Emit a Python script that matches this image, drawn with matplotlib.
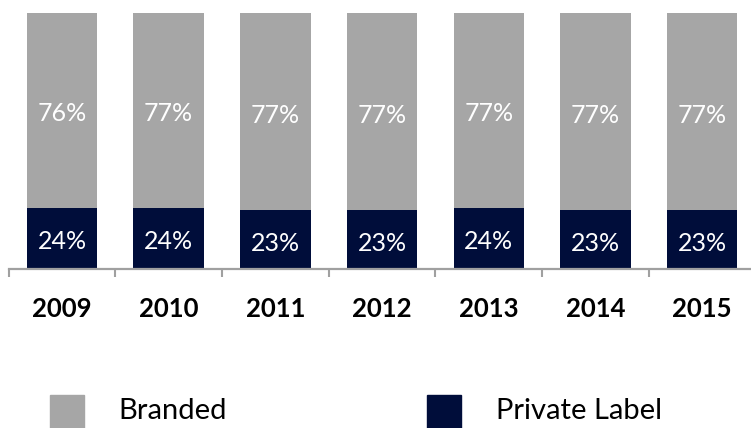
import numpy as np
import matplotlib
matplotlib.use("Agg")
import matplotlib.pyplot as plt
from matplotlib.patches import Patch, Rectangle
from matplotlib.legend_handler import HandlerPatch

years = ["2009", "2010", "2011", "2012", "2013", "2014", "2015"]
private_label = [24, 24, 23, 23, 24, 23, 23]
branded = [76, 77, 77, 77, 77, 77, 77]

GREY = "#A6A6A6"
NAVY = "#000D3A"
AXIS = "#A0A0A0"

plt.rcParams["font.family"] = ["Lato", "DejaVu Sans"]

W, H = 751, 428
fig = plt.figure(figsize=(W / 100, H / 100), dpi=100)
ax = fig.add_axes([8.6 / W, 159.0 / H, 747 / W, 256 / H])

x = np.arange(len(years))
width = 0.66
ymax = 100
pl_bars = ax.bar(x, private_label, width, color=NAVY, label="Private Label")
br_bars = ax.bar(x, branded, width, bottom=private_label, color=GREY, label="Branded")

# value labels sit in the middle of the visible part of each segment
for rect, v in zip(pl_bars, private_label):
    ax.annotate(f"{v}%", (rect.get_x() + rect.get_width() / 2, v / 2),
                xytext=(0, -2.5), textcoords="offset points",
                ha="center", va="center", color="white", fontsize=18)
for rect, p, v in zip(br_bars, private_label, branded):
    top = min(p + v, ymax)
    ax.annotate(f"{v}%", (rect.get_x() + rect.get_width() / 2, (p + top) / 2),
                xytext=(0, -2.5), textcoords="offset points",
                ha="center", va="center", color="white", fontsize=18)

ax.set_xlim(-0.5, len(years) - 0.5)
ax.set_ylim(0, ymax)
for s in ("top", "right", "left"):
    ax.spines[s].set_visible(False)
ax.spines["bottom"].set_color(AXIS)
ax.spines["bottom"].set_linewidth(1.6)
ax.set_yticks([])
ax.set_xticks(x)
ax.set_xticklabels(years, fontsize=18.5, fontweight="bold")
ax.tick_params(axis="x", which="major", length=0, pad=20.5)
ax.set_xticks(np.arange(-0.5, len(years)), minor=True)
ax.tick_params(axis="x", which="minor", length=5.5, width=1.5, color=AXIS, direction="out")


def tall_square(legend, orig_handle, xdescent, ydescent, width, height, fontsize):
    extra = 0.4 * fontsize
    return Rectangle((-xdescent, -ydescent - extra), width, height + extra)


handles = [Patch(color=GREY, label="Branded"), Patch(color=NAVY, label="Private Label")]
fig.legend(handles=handles, loc="upper left", bbox_to_anchor=(50 / W, 1 - 395 / H),
           ncol=2, frameon=False, fontsize=21, handlelength=1.16, handleheight=1.1,
           handletextpad=1.2, columnspacing=6.85, borderpad=0, borderaxespad=0,
           handler_map={Patch: HandlerPatch(patch_func=tall_square)})

fig.savefig("out.png", dpi=100)
